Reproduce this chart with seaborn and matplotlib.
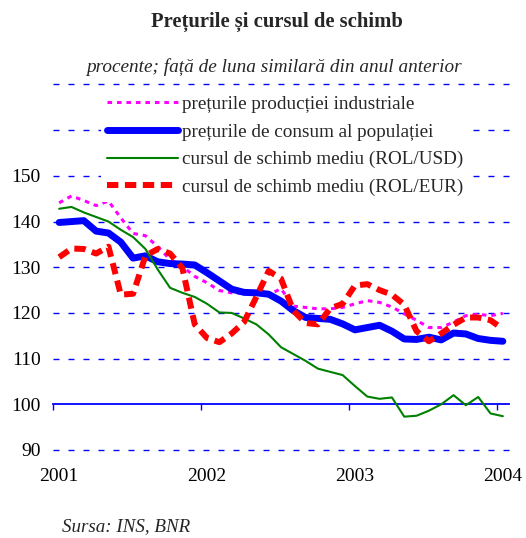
import matplotlib
matplotlib.use("Agg")
import matplotlib.pyplot as plt
import seaborn as sns
import numpy as np
import pandas as pd

# ---- data (monthly, Jan 2001 .. Jan 2004) ----
months = list(range(37))
year_labels = ["2001", "2002", "2003", "2004"]
year_positions = [0, 12, 24, 36]

ppi = [144.1, 145.6, 144.6, 143.5, 144.5, 140.8, 137.4, 136.9, 134.5, 131.7,
       130.2, 128.0, 126.6, 124.9, 124.4, 124.3, 124.2, 124.0, 125.3, 121.5,
       121.2, 120.9, 120.9, 121.2, 122.0, 122.7, 122.3, 121.3, 119.8, 118.4,
       116.8, 116.8, 118.0, 119.4, 119.7, 119.4, 119.9]
cpi = [139.8, 140.0, 140.2, 137.9, 137.5, 135.5, 132.0, 132.5, 131.2, 130.8,
       130.7, 130.5, 128.8, 127.0, 125.2, 124.5, 124.4, 124.1, 122.6, 120.5,
       119.0, 118.8, 118.6, 117.6, 116.3, 116.8, 117.3, 116.0, 114.3, 114.2,
       114.7, 114.1, 115.6, 115.4, 114.4, 114.0, 113.8]
usd = [142.8, 143.2, 142.0, 141.0, 140.0, 138.2, 136.6, 134.0, 129.5, 125.5,
       124.4, 123.5, 122.0, 120.1, 120.0, 118.8, 117.5, 115.3, 112.5, 111.0,
       109.5, 107.8, 107.1, 106.4, 104.0, 101.7, 101.2, 101.5, 97.3, 97.5,
       98.6, 100.0, 102.0, 99.8, 101.6, 98.0, 97.4]
eur = [132.2, 134.1, 134.0, 133.0, 134.5, 124.0, 124.2, 132.5, 134.0, 133.0,
       129.8, 117.5, 114.5, 113.6, 115.5, 118.0, 123.5, 129.2, 127.5, 120.5,
       117.8, 117.5, 121.0, 122.0, 126.0, 126.3, 125.0, 124.0, 121.8, 116.0,
       113.8, 115.5, 117.4, 119.0, 119.0, 118.4, 116.5]

labels = ["prețurile producției industriale",
          "prețurile de consum al populației",
          "cursul de schimb mediu (ROL/USD)",
          "cursul de schimb mediu (ROL/EUR)"]
yticks = [90, 100, 110, 120, 130, 140, 150]
grid_levels = [90, 110, 120, 130, 140, 150, 160, 170]

sns.set_theme(style="white")
plt.rcParams['font.family'] = ['Liberation Serif', 'DejaVu Serif']

fig = plt.figure(figsize=(5.26, 5.38), dpi=100)
ax = fig.add_axes([53/526, 1-450/538, (509-53)/526, (450-84.5)/538])

BLUE = "#0000ff"
for g in grid_levels:
    ax.axhline(g, color=BLUE, lw=1.0, linestyle=(0, (4.3, 6.5)), zorder=0.5,
               clip_on=False)

sns.lineplot(x=months, y=ppi, ax=ax, color="#ff00ff", linewidth=2.2,
             linestyle=(0, (1.5, 1.6)), label=labels[0])
sns.lineplot(x=months, y=cpi, ax=ax, color=BLUE, linewidth=5.0,
             label=labels[1])
sns.lineplot(x=months, y=usd, ax=ax, color="#008000", linewidth=1.5,
             label=labels[2])
sns.lineplot(x=months, y=eur, ax=ax, color="#ff0000", linewidth=4.3,
             linestyle=(0, (1.9, 1.1)), label=labels[3])

ax.set_xlim(-0.5, 36.5)
ax.set_ylim(90, 170)
for s in ax.spines.values():
    s.set_visible(False)

ax.set_yticks(yticks)
ax.set_yticklabels([str(v) for v in yticks])
ax.tick_params(axis="y", length=0, pad=9, labelsize=14, colors="black")
ax.set_xticks(year_positions)
ax.set_xticklabels(year_labels)
ax.tick_params(axis="x", length=0, pad=13, labelsize=14, colors="black")
ax.set_xlabel("")
ax.set_ylabel("")
ax.grid(False)

# category axis crossing at 100
sec = ax.secondary_xaxis((100 - 90) / (170 - 90))
sec.set_xticks([-0.5, 11.5, 23.5, 35.5])
sec.set_xticklabels([])
sec.tick_params(axis="x", direction="out", length=4, width=1, color=BLUE)
sec.spines["bottom"].set_color(BLUE)
sec.spines["bottom"].set_linewidth(1.3)
sec.spines["top"].set_visible(False)

leg = ax.legend(loc="upper left", bbox_to_anchor=(101/526, 1-90/538),
                bbox_transform=fig.transFigure, frameon=True, fontsize=13.8,
                handlelength=3.7, handletextpad=0.21, labelspacing=0.53,
                borderpad=0.3, borderaxespad=0)
leg.get_frame().set_facecolor("white")
leg.get_frame().set_edgecolor("none")
leg.get_frame().set_alpha(1)
leg.get_frame().set_boxstyle("square", pad=0)
leg.set_zorder(5)

fig.text(277/526, 1-22/538, "Prețurile și cursul de schimb",
         ha="center", va="center", fontsize=14.9, fontweight="bold")
fig.text(274/526, 1-67/538, "procente; față de luna similară din anul anterior",
         ha="center", va="center", fontsize=13.85, style="italic")
fig.text(62/526, 1-527/538, "Sursa: INS, BNR", ha="left", va="center",
         fontsize=13.7, style="italic")

fig.savefig("out.png", dpi=100, facecolor="white")
